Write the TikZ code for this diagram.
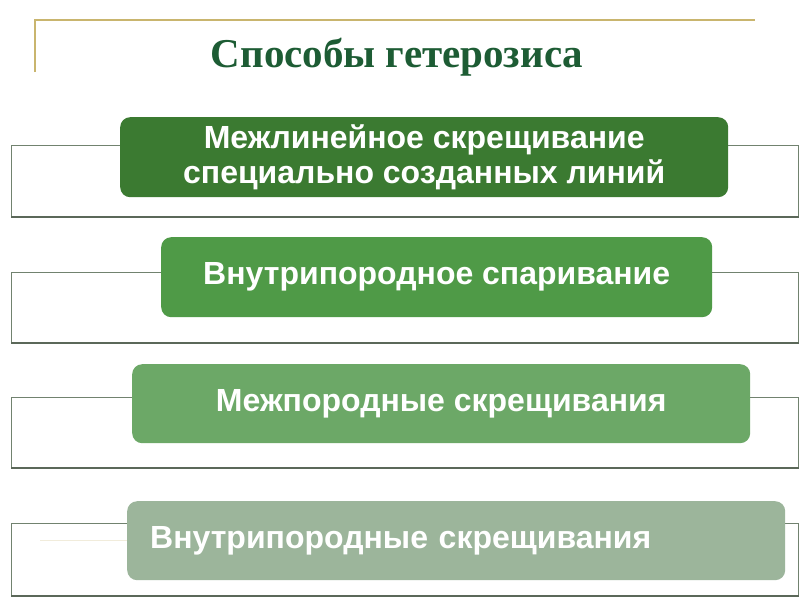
\documentclass[tikz,border=0pt]{standalone}
\usepackage{fontspec}
\setmainfont{Liberation Serif}
\newfontfamily\boxfont{Liberation Sans}
\usetikzlibrary{positioning}
\definecolor{titlegreen}{HTML}{1D5C34}
\definecolor{goldline}{HTML}{C9B56E}
\definecolor{framegray}{HTML}{71826F}
\definecolor{greenA}{HTML}{3B7A31}
\definecolor{greenB}{HTML}{4F9A47}
\definecolor{greenC}{HTML}{6CA867}
\definecolor{greenD}{HTML}{9CB59B}
\tikzstyle{frame}=[draw=framegray, line width=1.2pt, fill=white, anchor=north west, inner sep=0pt, minimum width=787pt]
\tikzstyle{method}=[rounded corners=10pt, anchor=north west, inner sep=0pt, text=white, align=center, font=\boxfont\bfseries\fontsize{32}{35}\selectfont]

\begin{document}
\begin{tikzpicture}[x=1pt, y=-1pt]
        \useasboundingbox (0,0) rectangle (800,600);
        % title and corner lines
        \draw[goldline, line width=1.4pt] (35,72) -- (35,20) -- (755,20);
        \node[anchor=base, text=titlegreen, font=\bfseries\fontsize{41}{45}\selectfont] (title) at (397,67) {Способы гетерозиса};
        % white frames behind the boxes
        \node[frame, minimum height=71pt] (frame1) at (11,145) {};
        \node[frame, minimum height=70pt] (frame2) at (11,272) {};
        \node[frame, minimum height=70pt] (frame3) at (11,397) {};
        \node[frame, minimum height=72pt] (frame4) at (11,523) {};
        \foreach \f in {frame1,frame2,frame3,frame4}
            \draw[framegray!80!black, line width=1.6pt] (\f.south west) -- (\f.south east);
        \draw[goldline!25, line width=1pt] (40,540) -- (127,540);
        % the four methods
        \node[method, fill=greenA, minimum width=608pt, minimum height=80pt] (line) at (120,117) {Межлинейное скрещивание\\специально созданных линий};
        \node[method, fill=greenB, minimum width=551pt, minimum height=80pt] (inbreed) at (161,237) {Внутрипородное спаривание};
        \node[method, fill=greenC, minimum width=618pt, minimum height=79pt] (crossbreed) at (132,364) {Межпородные скрещивания};
        \node[method, fill=greenD, minimum width=658pt, minimum height=79pt, text width=612pt, align=left] (incross) at (127,501) {Внутрипородные скрещивания};
\end{tikzpicture}
\end{document}
